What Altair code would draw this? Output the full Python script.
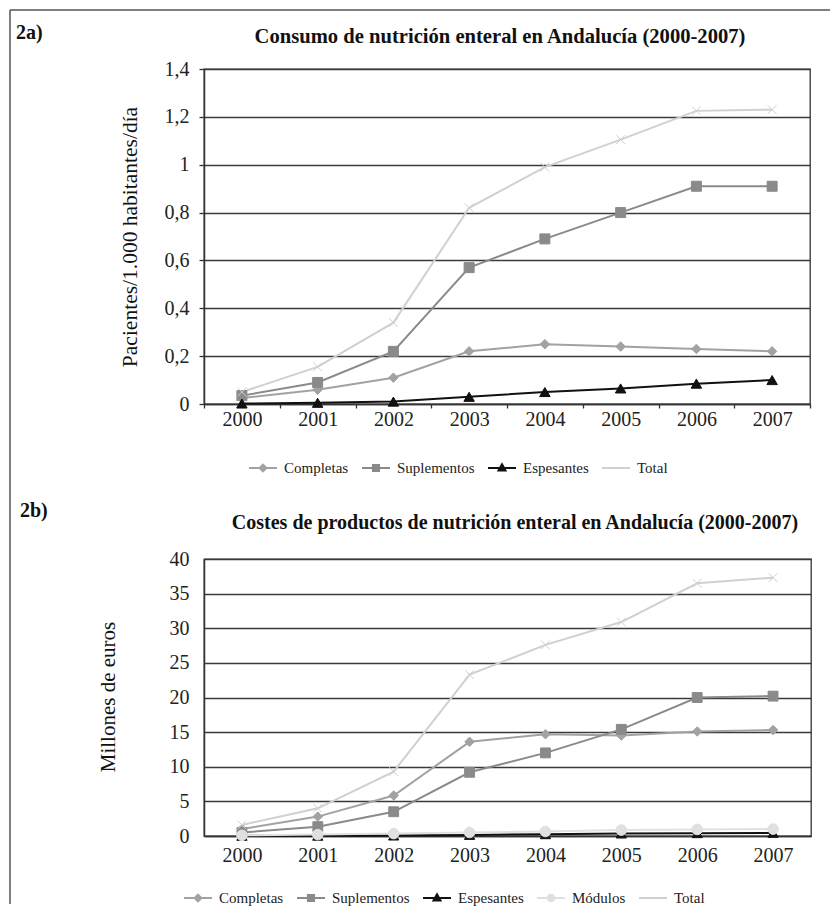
import altair as alt
import pandas as pd

# ---------------- data ----------------
years = ["2000", "2001", "2002", "2003", "2004", "2005", "2006", "2007"]

series_a = ["Completas", "Suplementos", "Espesantes", "Total"]
completas_a = [0.025, 0.06, 0.11, 0.22, 0.25, 0.24, 0.23, 0.22]
suplementos_a = [0.035, 0.09, 0.22, 0.57, 0.69, 0.80, 0.91, 0.91]
espesantes_a = [0.002, 0.005, 0.01, 0.03, 0.05, 0.065, 0.085, 0.10]
total_a = [0.05, 0.155, 0.34, 0.82, 0.99, 1.105, 1.225, 1.23]

series_b = ["Completas", "Suplementos", "Espesantes", "Módulos", "Total"]
completas_b = [1.0, 2.8, 5.85, 13.6, 14.7, 14.5, 15.1, 15.3]
suplementos_b = [0.5, 1.35, 3.5, 9.2, 12.0, 15.4, 20.0, 20.2]
espesantes_b = [0.02, 0.03, 0.06, 0.15, 0.25, 0.35, 0.4, 0.45]
modulos_b = [0.1, 0.2, 0.35, 0.5, 0.65, 0.85, 0.95, 1.0]
total_b = [1.6, 4.0, 9.3, 23.3, 27.6, 30.9, 36.5, 37.3]

ticks_a = [0, 0.2, 0.4, 0.6, 0.8, 1.0, 1.2, 1.4]
ticks_b = [0, 5, 10, 15, 20, 25, 30, 35, 40]

title_a = "Consumo de nutrición enteral en Andalucía (2000-2007)"
title_b = "Costes de productos de nutrición enteral en Andalucía (2000-2007)"
ytitle_a = "Pacientes/1.000 habitantes/día"
ytitle_b = "Millones de euros"

# ---------------- styles ----------------
FONT = "Liberation Serif"
colors = {"Completas": "#a2a2a2", "Suplementos": "#8a8a8a", "Espesantes": "#111111",
          "Módulos": "#e0e0e0", "Total": "#d0d0d0"}
point_shapes = {"Completas": "diamond", "Suplementos": "square", "Espesantes": "triangle-up",
                "Módulos": "circle", "Total": "M-0.8,-0.8L0.8,0.8M-0.8,0.8L0.8,-0.8"}
point_sizes = {"Completas": 90, "Suplementos": 120, "Espesantes": 100, "Módulos": 100, "Total": 80}
legend_shapes = {
    "Completas": "M-1,0H1M0,-0.24L0.24,0L0,0.24L-0.24,0Z",
    "Suplementos": "M-1,0H1M-0.22,-0.22H0.22V0.22H-0.22Z",
    "Espesantes": "M-1,0H1M0,-0.26L0.25,0.17H-0.25Z",
    "Módulos": "M-1,0H1M-0.24,0A0.24,0.24,0,1,0,0.24,0A0.24,0.24,0,1,0,-0.24,0Z",
    "Total": "M-1,0H1",
}


def long_df(series, arrays):
    rows = []
    for i, (s, vals) in enumerate(zip(series, arrays)):
        for y, v in zip(years, vals):
            rows.append({"Año": y, "Serie": s, "Valor": v, "Orden": i})
    return pd.DataFrame(rows)


df_a = long_df(series_a, [completas_a, suplementos_a, espesantes_a, total_a])
df_b = long_df(series_b, [completas_b, suplementos_b, espesantes_b, modulos_b, total_b])
one = pd.DataFrame({"k": [1]})


def text(txt, x, y, size, bold=False, angle=0, align="center"):
    kw = dict(text=txt, font=FONT, fontSize=size, fontWeight="bold" if bold else "normal",
              align=align, baseline="middle", color="#111111")
    if angle:
        kw["angle"] = angle
    return alt.Chart(one).mark_text(**kw).encode(x=alt.value(x), y=alt.value(y))


def panel(df, series, width, height, ymax, yvals, tag, tag_xy, title, title_xy, title_size,
          ytitle, ytitle_xy, ytitle_size, legend_xy, with_ticks, x_pad, y_pad, extra=()):
    x = alt.X("Año:O", scale=alt.Scale(type="band", paddingInner=0, paddingOuter=0),
              axis=alt.Axis(title=None, labelAngle=0, tickBand="extent", ticks=with_ticks,
                            tickSize=4, labelPadding=x_pad, grid=False))
    y = alt.Y("Valor:Q", scale=alt.Scale(domain=[0, ymax], nice=False),
              axis=alt.Axis(title=None, values=yvals, grid=True, ticks=with_ticks, tickSize=5,
                            labelPadding=y_pad,
                            labelExpr="replace(format(datum.value, '~g'), '.', ',')"))
    col_range = [colors[s] for s in series]

    lines = alt.Chart(df).mark_line(strokeWidth=2).encode(
        x=x, y=y,
        stroke=alt.Stroke("Serie:N", scale=alt.Scale(domain=series, range=col_range), legend=None),
    )
    pts = alt.Chart(df).mark_point(filled=True, opacity=1, strokeWidth=1).encode(
        x=x, y=y,
        fill=alt.Fill("Serie:N", scale=alt.Scale(domain=series, range=col_range), legend=None),
        stroke=alt.Stroke("Serie:N", scale=alt.Scale(domain=series, range=col_range), legend=None),
        shape=alt.Shape("Serie:N", scale=alt.Scale(domain=series, range=[point_shapes[s] for s in series]), legend=None),
        size=alt.Size("Serie:O", scale=alt.Scale(domain=series, range=[point_sizes[s] for s in series]), legend=None),
        order=alt.Order("Orden:Q"),
    )
    leg_kw = dict(orient="none", legendX=legend_xy[0], legendY=legend_xy[1], direction="horizontal",
                  columns=len(series), title=None, symbolSize=784, symbolStrokeWidth=2,
                  labelFont=FONT, labelFontSize=15, labelColor="#222222", labelOffset=6,
                  columnPadding=9, padding=0)
    leg = alt.Chart(df).transform_filter("false").mark_point(filled=True, opacity=1).encode(
        fill=alt.Fill("Serie:N", scale=alt.Scale(domain=series, range=col_range), legend=alt.Legend(**leg_kw)),
        stroke=alt.Stroke("Serie:N", scale=alt.Scale(domain=series, range=col_range), legend=alt.Legend(**leg_kw)),
        shape=alt.Shape("Serie:N", scale=alt.Scale(domain=series, range=[legend_shapes[s] for s in series]),
                        legend=alt.Legend(**leg_kw)),
    )
    layers = [lines, pts, leg,
              text(tag, tag_xy[0], tag_xy[1], 20, bold=True, align="left"),
              text(title, title_xy[0], title_xy[1], title_size, bold=True),
              text(ytitle, ytitle_xy[0], ytitle_xy[1], ytitle_size, angle=270)] + list(extra)
    return alt.layer(*layers).properties(width=width, height=height).resolve_scale(
        fill="independent", stroke="independent", shape="independent", size="independent")


frame = [
    alt.Chart(one).mark_rule(color="#555555", strokeWidth=1.5).encode(
        x=alt.value(-194), x2=alt.value(626), y=alt.value(-59)),
    alt.Chart(one).mark_rule(color="#555555", strokeWidth=1.5).encode(
        x=alt.value(-194), y=alt.value(-59), y2=alt.value(835)),
]

top = panel(df_a, series_a, 606, 335, 1.4, ticks_a, "2a)", (-188, -36), title_a, (296, -32), 20.6,
            ytitle_a, (-73, 168), 21.5, (44, 384), True, 1, 10, extra=frame)
bottom = panel(df_b, series_b, 607, 277, 40, ticks_b, "2b)", (-184, -48), title_b, (311, -36), 20,
               ytitle_b, (-95, 138), 21, (-21, 324), False, 9, 15)

chart = alt.vconcat(top, bottom, spacing=155, bounds="flush").resolve_scale(
    fill="independent", stroke="independent", shape="independent", size="independent"
).properties(padding=0).configure(
    font=FONT
).configure_view(
    stroke="#333333", strokeWidth=1.3
).configure_axis(
    labelFont=FONT, labelFontSize=20, labelColor="#222222",
    domainColor="#333333", domainWidth=1.5, tickColor="#333333", tickWidth=1.3,
    gridColor="#3a3a3a", gridWidth=1.3,
).configure_legend(
    labelFont=FONT, labelFontSize=15, labelColor="#222222"
).configure_text(
    font=FONT
)

chart.save("out.html", embed_options={"renderer": "svg", "actions": False})
